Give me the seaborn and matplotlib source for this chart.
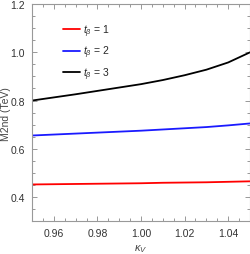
import matplotlib
matplotlib.use('Agg')
import matplotlib.pyplot as plt
import numpy as np
import pandas as pd
import seaborn as sns
from matplotlib.ticker import MultipleLocator

kappa_v = [0.95, 0.96, 0.97, 0.98, 0.99, 1.00, 1.01, 1.02, 1.03, 1.04, 1.05]
m2nd_tb1 = [0.452, 0.453, 0.454, 0.455, 0.456, 0.457, 0.459, 0.460, 0.461, 0.463, 0.465]
m2nd_tb2 = [0.655, 0.659, 0.663, 0.667, 0.671, 0.675, 0.680, 0.685, 0.690, 0.697, 0.705]
m2nd_tb3 = [0.800, 0.813, 0.826, 0.840, 0.854, 0.868, 0.885, 0.905, 0.928, 0.958, 1.000]

series = {'1': m2nd_tb1, '2': m2nd_tb2, '3': m2nd_tb3}
frames = []
for tb, vals in series.items():
    frames.append(pd.DataFrame({'kv': kappa_v, 'm2': vals,
                                'tb': r'$t_\beta$ = ' + tb}))
data = pd.concat(frames, ignore_index=True)

sns.set_theme(style='ticks')
plt.rcParams['font.family'] = ['Liberation Sans', 'DejaVu Sans']
plt.rcParams['mathtext.fontset'] = 'custom'
plt.rcParams['mathtext.it'] = 'Liberation Sans:italic'
plt.rcParams['mathtext.rm'] = 'Liberation Sans'

fig, ax = plt.subplots(figsize=(2.51, 2.55), dpi=100)
palette = ['#ff0000', '#1a1aff', '#000000']
sns.lineplot(data=data, x='kv', y='m2', hue='tb', palette=palette,
             linewidth=1.3, ax=ax)

ax.set_xlim(0.95, 1.05)
ax.set_ylim(0.3, 1.2)
ax.xaxis.set_major_locator(MultipleLocator(0.02))
ax.xaxis.set_minor_locator(MultipleLocator(0.005))
ax.yaxis.set_major_locator(MultipleLocator(0.2))
ax.yaxis.set_minor_locator(MultipleLocator(0.05))
ax.set_xticklabels([f'{t:.2f}' for t in ax.get_xticks()])
ax.set_yticklabels([f'{t:.1f}' for t in ax.get_yticks()])
ax.tick_params(which='both', direction='in', top=True, right=True,
               colors='#888888', labelcolor='#333333', labelsize=7.5,
               width=0.6, pad=5)
ax.tick_params(which='major', length=3.5)
ax.tick_params(which='minor', length=2)
for sp in ax.spines.values():
    sp.set_color('#999999')
    sp.set_linewidth(0.8)

ax.set_xlabel(r'$\kappa_V$', fontsize=8, color='#444444')
ax.set_ylabel('M2nd (TeV)', fontsize=7.5, color='#444444')
ax.xaxis.set_label_coords(0.5, -0.097)
ax.yaxis.set_label_coords(-0.095, 0.5)

ax.legend(title=None, frameon=False, loc='upper left',
          bbox_to_anchor=(0.142, 0.917), fontsize=7.5, handlelength=1.6,
          handletextpad=0.35, labelspacing=0.5, borderpad=0,
          borderaxespad=0)

fig.subplots_adjust(left=0.1275, right=0.996, top=0.98, bottom=0.129)
fig.savefig('out.png', dpi=100)
